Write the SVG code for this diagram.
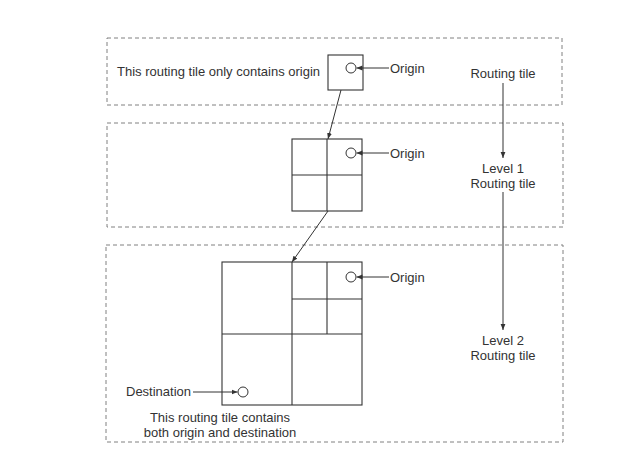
<svg xmlns="http://www.w3.org/2000/svg" width="632" height="467" viewBox="0 0 632 467">
<style>
.band{fill:none;stroke:#808080;stroke-width:1;stroke-dasharray:4,3}
.tile{fill:none;stroke:#333;stroke-width:1.1}
.conn{fill:none;stroke:#333;stroke-width:1}
.pt{fill:#fff;stroke:#333;stroke-width:1}
text{font-family:"Liberation Sans",Arial,sans-serif;font-size:13px;fill:#333}
.c{text-anchor:middle}
</style>
<defs>
<marker id="ah" viewBox="0 0 10 10" refX="10" refY="5" markerWidth="6" markerHeight="6" orient="auto" markerUnits="userSpaceOnUse">
<path d="M0,1 L10,5 L0,9 Z" fill="#333"/>
</marker>
</defs>
<rect width="632" height="467" fill="#fff"/>
<g id="band-top"><rect class="band" x="107" y="38" width="455" height="67"/></g>
<g id="band-mid"><rect class="band" x="107" y="123" width="456" height="104"/></g>
<g id="band-bottom"><rect class="band" x="106" y="245" width="457" height="197"/></g>

<g id="tile-top">
<rect class="tile" x="328" y="55" width="35" height="35"/>
<circle class="pt" cx="351" cy="68" r="5"/>
</g>
<g id="tile-level1">
<rect class="tile" x="292" y="139" width="70" height="72"/>
<line class="tile" x1="327" y1="139" x2="327" y2="211"/>
<line class="tile" x1="292" y1="175" x2="362" y2="175"/>
<circle class="pt" cx="351" cy="153" r="5"/>
</g>
<g id="tile-level2">
<rect class="tile" x="222" y="262" width="140" height="143"/>
<line class="tile" x1="292" y1="262" x2="292" y2="405"/>
<line class="tile" x1="222" y1="334" x2="362" y2="334"/>
<line class="tile" x1="327" y1="262" x2="327" y2="334"/>
<line class="tile" x1="292" y1="299" x2="362" y2="299"/>
<circle class="pt" cx="351" cy="277" r="5"/>
<circle class="pt" cx="243" cy="392" r="5"/>
</g>

<g id="labels">
<text x="117" y="76">This routing tile only contains origin</text>
<text x="390" y="73">Origin</text>
<text x="390" y="158">Origin</text>
<text x="390" y="282">Origin</text>
<text x="126" y="396">Destination</text>
<text class="c" x="220" y="422">This routing tile contains</text>
<text class="c" x="220" y="437">both origin and destination</text>
<text class="c" x="503" y="78">Routing tile</text>
<text class="c" x="503" y="173">Level 1</text>
<text class="c" x="503" y="188">Routing tile</text>
<text class="c" x="503" y="345">Level 2</text>
<text class="c" x="503" y="360">Routing tile</text>
</g>

<g id="connectors">
<line class="conn" x1="389" y1="68" x2="356.5" y2="68" marker-end="url(#ah)"/>
<line class="conn" x1="389" y1="153" x2="356.5" y2="153" marker-end="url(#ah)"/>
<line class="conn" x1="389" y1="277" x2="356.5" y2="277" marker-end="url(#ah)"/>
<line class="conn" x1="193" y1="392" x2="237.5" y2="392" marker-end="url(#ah)"/>
<line class="conn" x1="341" y1="90" x2="328" y2="139" marker-end="url(#ah)"/>
<line class="conn" x1="328" y1="211" x2="292" y2="262" marker-end="url(#ah)"/>
<line class="conn" x1="503" y1="83" x2="503" y2="158" marker-end="url(#ah)"/>
<line class="conn" x1="503" y1="192" x2="503" y2="330" marker-end="url(#ah)"/>
</g>
</svg>
